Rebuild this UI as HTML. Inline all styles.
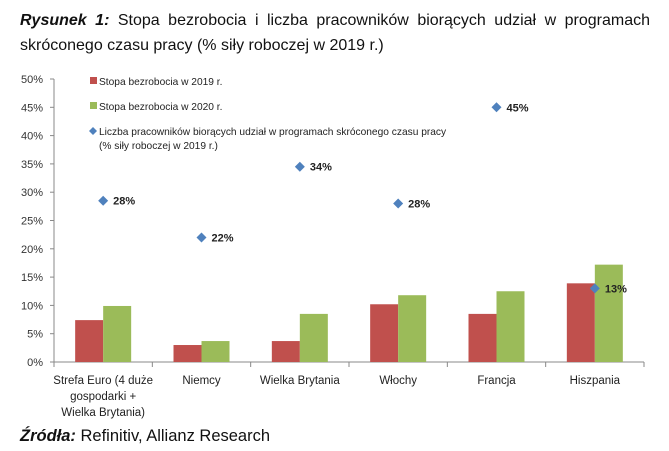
<!DOCTYPE html>
<html><head><meta charset="utf-8"><style>
body{margin:0;background:#fff;width:669px;height:451px;overflow:hidden;font-family:"Liberation Sans",sans-serif}
.t{position:absolute;left:20px;font-size:16px;color:#111}
</style></head><body>
<div class="t" style="top:12px;width:630px;text-align:justify;text-align-last:justify"><b><i>Rysunek 1:</i></b> Stopa bezrobocia i liczba pracowników biorących udział w programach</div>
<div class="t" style="top:37px">skróconego czasu pracy (% siły roboczej w 2019 r.)</div>
<svg id="c" width="669" height="451" style="position:absolute;left:0;top:0" font-family="Liberation Sans, sans-serif"></svg>
<div class="t" style="top:427px;font-size:16.5px"><b><i>Źródła:</i></b> Refinitiv, Allianz Research</div>
<script>
const categories=[["Strefa Euro (4 duże","gospodarki +","Wielka Brytania)"],["Niemcy"],["Wielka Brytania"],["Włochy"],["Francja"],["Hiszpania"]];
const unemp2019=[7.4,3.0,3.7,10.2,8.5,13.9];
const unemp2020=[9.9,3.7,8.5,11.8,12.5,17.2];
const shortTime=[28.5,22,34.5,28,45,13];
const shortLabels=["28%","22%","34%","28%","45%","13%"];
const yTicks=[0,5,10,15,20,25,30,35,40,45,50];
const svg=document.getElementById('c');const NS="http://www.w3.org/2000/svg";
const x0=54,x1=644,yb=362,yt=79;
const y=v=>yb-(v/50)*(yb-yt);
const cw=(x1-x0)/categories.length;const cx=i=>x0+cw*(i+0.5);
function mk(t,a,p){const e=document.createElementNS(NS,t);for(const k in a)e.setAttribute(k,a[k]);(p||svg).appendChild(e);return e;}
let ax=mk('line',{x1:x0,y1:yt,x2:x0,y2:yb,stroke:'#888'});


let xa=mk('line',{x1:x0,y1:yb,x2:x1,y2:yb,stroke:'#888'});


yTicks.forEach(v=>{mk('line',{x1:x0-4,y1:y(v),x2:x0,y2:y(v),stroke:'#888'});
let t=mk('text',{x:x0-11,y:y(v)+4,'text-anchor':'end','font-size':11,fill:'#333'});t.textContent=v+'%';

});
for(let i=0;i<=categories.length;i++)mk('line',{x1:x0+cw*i,y1:yb,x2:x0+cw*i,y2:yb+5,stroke:'#888'});
categories.forEach((c,i)=>{
let r=mk('rect',{x:cx(i)-28,y:y(unemp2019[i]),width:28,height:yb-y(unemp2019[i]),fill:'#c0504d'});


let g=mk('rect',{x:cx(i),y:y(unemp2020[i]),width:28,height:yb-y(unemp2020[i]),fill:'#9bbb59'});


c.forEach((l,j)=>{let t=mk('text',{x:cx(i),y:yb+22+j*16,'text-anchor':'middle','font-size':11.5,fill:'#222'});t.textContent=l;

});
});
shortTime.forEach((v,i)=>{const X=cx(i),Y=y(v);
let d=mk('polygon',{points:`${X},${Y-5} ${X+5},${Y} ${X},${Y+5} ${X-5},${Y}`,fill:'#4f81bd'});


let t=mk('text',{x:X+10,y:Y+4,'font-size':11,'font-weight':'bold',fill:'#222'});t.textContent=shortLabels[i];

});
const leg=[["#c0504d","Stopa bezrobocia w 2019 r.",'s'],["#9bbb59","Stopa bezrobocia w 2020 r.",'s'],["#4f81bd","Liczba pracowników biorących udział w programach skróconego czasu pracy",'d']];
leg.forEach((l,i)=>{const Y=81+i*25;
let m=l[2]=='s'?mk('rect',{x:90,y:Y-4,width:7,height:7,fill:l[0]}):mk('polygon',{points:`93,${Y-4} 97,${Y} 93,${Y+4} 89,${Y}`,fill:l[0]});


let t=mk('text',{x:99,y:Y+4,'font-size':10.2,fill:'#222'});t.textContent=l[1];

});
let t2=mk('text',{x:99,y:149,'font-size':10.2,fill:'#222'});t2.textContent='(% siły roboczej w 2019 r.)';


</script>
</body></html>
